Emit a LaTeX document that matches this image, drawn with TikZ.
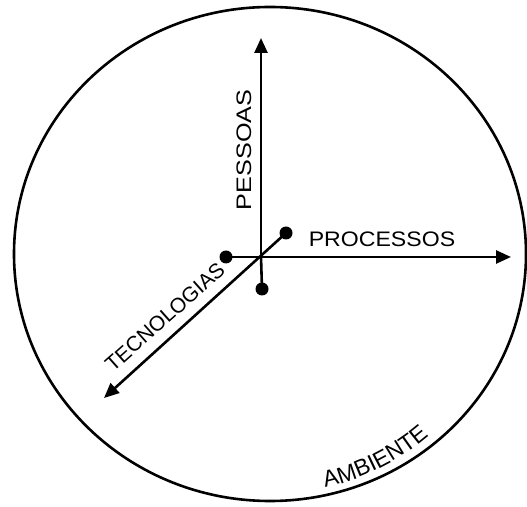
\documentclass[tikz,border=0pt]{standalone}
\usepackage{fontspec}
\usepackage{graphicx}
\setmainfont{Liberation Sans}
\usetikzlibrary{arrows.meta,decorations.text}
\begin{document}
\begin{tikzpicture}[x=1pt,y=1pt,
  axis/.style={line width=2.6pt,-{Triangle[length=15pt,width=13pt]}},
  dotnode/.style={circle,fill=black,inner sep=0pt,minimum size=13pt},
  lbl/.style={font=\fontsize{21}{21}\selectfont,inner sep=0pt}]
\useasboundingbox (0,0) rectangle (527,506);
\draw[line width=2.6pt] (270,252) ellipse [x radius=256, y radius=247];
\coordinate (O) at (261,249);
\coordinate (up) at (261,468);
\coordinate (right) at (511,249);
\coordinate (dl) at (104,108);
\node[dotnode] (dL) at (226,249) {};
\node[dotnode] (dB) at (262,217) {};
\node[dotnode] (dR) at (286,273) {};
\draw[line width=2.6pt] (dL.center) -- (O);
\draw[line width=2.6pt] (dB.center) -- (O);
\draw[axis] (O) -- (up);
\draw[axis] (O) -- (right);
\draw[axis] (dR.center) -- (dl);
\node[lbl,rotate=90] (pes) at (244,356) {\scalebox{1.2}[1]{PESSOAS}};
\node[lbl] (pro) at (382,267) {\scalebox{1.1}[1]{PROCESSOS}};
\node[lbl,rotate=41.7] (tec) at (165,189) {TECNOLOGIAS};
\path[decorate,decoration={text along path,text align=center,
  text={|\fontsize{23}{23}\selectfont|AMBIENTE}}]
  (270,252) ++(-87:240) arc[start angle=-87,end angle=-38,x radius=240,y radius=233];
\end{tikzpicture}
\end{document}
